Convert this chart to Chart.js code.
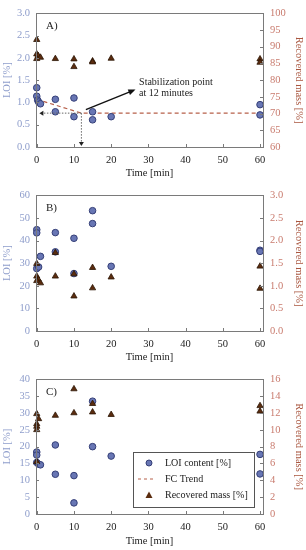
<!DOCTYPE html>
<html>
<head>
<meta charset="utf-8">
<script src="https://cdn.jsdelivr.net/npm/chart.js@4"></script>
<style>
  body { margin: 0; background: #fff; }
  .panel { position: relative; width: 306px; }
  canvas { display: block; }
</style>
</head>
<body>
<div class="panel" style="height:182px"><canvas id="chartA"></canvas></div>
<div class="panel" style="height:184px"><canvas id="chartB"></canvas></div>
<div class="panel" style="height:184px"><canvas id="chartC"></canvas></div>
<script>
// Panel A
const aLoiTime = [0, 0, 0.25, 0.5, 1, 5, 5, 10, 10, 15, 15, 20, 60, 60];
const aLoi = [1.33, 1.14, 1.05, 1.01, 0.97, 1.07, 0.79, 1.1, 0.68, 0.79, 0.61, 0.68, 0.95, 0.72];
const aMassTime = [0, 0, 0.4, 1, 0, 5, 10, 10, 15, 15, 20, 60, 60];
const aMass = [92.1, 87.8, 87.3, 86.8, 86.4, 86.4, 86.3, 84.0, 85.7, 85.4, 86.5, 86.3, 85.3];
const aTrendTime = [0, 12, 60];
const aTrend = [1.07, 0.76, 0.76];

// Panel B
const bLoiTime = [0, 0, 0, 0.5, 1, 5, 5, 10, 10, 15, 15, 20, 60, 60];
const bLoi = [44.8, 43.4, 27.6, 28.3, 33.0, 43.5, 35.0, 41.0, 25.4, 53.2, 47.5, 28.6, 35.7, 35.2];
const bMassTime = [0, 0, 0.4, 0, 1, 5, 5, 10, 10, 15, 15, 20, 60, 60];
const bMass = [1.49, 1.21, 1.14, 1.11, 1.06, 1.73, 1.21, 1.26, 0.77, 1.40, 0.95, 1.19, 1.43, 0.94];

// Panel C
const cLoiTime = [0, 0, 0, 0.5, 1, 5, 5, 10, 10, 15, 15, 20, 60, 60];
const cLoi = [18.4, 17.5, 15.3, 14.8, 14.6, 20.5, 11.8, 11.4, 3.3, 33.5, 20.0, 17.2, 17.7, 11.9];
const cMassTime = [0, 0.5, 0, 0, 0, 0, 5, 10, 10, 15, 15, 20, 60, 60];
const cMass = [11.9, 11.3, 10.7, 10.4, 10.0, 6.2, 11.7, 14.85, 12.0, 13.1, 12.1, 11.8, 12.85, 12.2];

const timeTicks = [0, 10, 20, 30, 40, 50, 60];

const loiColor = "#8e9dcb";
const massTickColor = "#c97b6e";
const massTitleColor = "#a9563f";
const frameColor = "#7a7a7a";
const serif = "'Liberation Serif', 'DejaVu Serif', serif";
const fs = 10.5;

function toPoints(xs, ys) {
    return xs.map((x, i) => ({ x: x, y: ys[i] }));
}

// frame around the plot + small inward ticks
const framePlugin = {
    id: "frame",
    afterDraw(chart) {
        const ctx = chart.ctx;
        const a = chart.chartArea;
        ctx.save();
        ctx.strokeStyle = frameColor;
        ctx.lineWidth = 1;
        ctx.strokeRect(Math.round(a.left) + 0.5, Math.round(a.top) + 0.5,
            Math.round(a.right - a.left), Math.round(a.bottom - a.top));
        ctx.beginPath();
        chart.scales.y.ticks.forEach((t) => {
            const py = Math.round(chart.scales.y.getPixelForValue(t.value)) + 0.5;
            ctx.moveTo(a.left, py);
            ctx.lineTo(a.left + 3, py);
        });
        chart.scales.y1.ticks.forEach((t) => {
            const py = Math.round(chart.scales.y1.getPixelForValue(t.value)) + 0.5;
            ctx.moveTo(a.right, py);
            ctx.lineTo(a.right - 3, py);
        });
        chart.scales.x.ticks.forEach((t) => {
            const px = Math.round(chart.scales.x.getPixelForValue(t.value)) + 0.5;
            ctx.moveTo(px, a.bottom);
            ctx.lineTo(px, a.bottom - 3);
        });
        ctx.stroke();

        // panel letter
        ctx.fillStyle = "#222";
        ctx.font = "11px " + serif;
        ctx.textBaseline = "top";
        ctx.fillText(chart.options.plugins.frame.letter, a.left + 10, a.top + 7);
        ctx.restore();
    },
};

// arrows + text for panel A
const stabPlugin = {
    id: "stab",
    afterDatasetsDraw(chart) {
        if (!chart.options.plugins.stab.show) return;
        const ctx = chart.ctx;
        const xs = chart.scales.x;
        const ys = chart.scales.y;
        const px = (v) => xs.getPixelForValue(v);
        const py = (v) => ys.getPixelForValue(v);
        ctx.save();
        // grey dotted guides
        ctx.strokeStyle = "#666";
        ctx.lineWidth = 1;
        ctx.setLineDash([1.5, 1.5]);
        ctx.beginPath();
        ctx.moveTo(px(12), py(0.76));
        ctx.lineTo(px(1.2), py(0.76));
        ctx.moveTo(px(12), py(0.76));
        ctx.lineTo(px(12), py(0.05));
        ctx.stroke();
        ctx.setLineDash([]);
        ctx.fillStyle = "#222";
        // left arrowhead
        ctx.beginPath();
        ctx.moveTo(px(0.7), py(0.76));
        ctx.lineTo(px(0.7) + 4, py(0.76) - 2.5);
        ctx.lineTo(px(0.7) + 4, py(0.76) + 2.5);
        ctx.fill();
        // down arrowhead
        ctx.beginPath();
        ctx.moveTo(px(12), py(0) - 1);
        ctx.lineTo(px(12) - 2.5, py(0) - 5);
        ctx.lineTo(px(12) + 2.5, py(0) - 5);
        ctx.fill();

        // black arrow to label
        const x0 = px(13.2), y0 = py(0.84);
        const x1 = px(26), y1 = py(1.27);
        ctx.strokeStyle = "#111";
        ctx.lineWidth = 1.4;
        ctx.beginPath();
        ctx.moveTo(x0, y0);
        ctx.lineTo(x1, y1);
        ctx.stroke();
        const ang = Math.atan2(y1 - y0, x1 - x0);
        ctx.beginPath();
        ctx.moveTo(x1 + 2, y1 + 2 * Math.tan(ang));
        ctx.lineTo(x1 - 5 * Math.cos(ang) + 3 * Math.sin(ang), y1 - 5 * Math.sin(ang) - 3 * Math.cos(ang));
        ctx.lineTo(x1 - 5 * Math.cos(ang) - 3 * Math.sin(ang), y1 - 5 * Math.sin(ang) + 3 * Math.cos(ang));
        ctx.fillStyle = "#111";
        ctx.fill();

        ctx.fillStyle = "#222";
        ctx.font = "10px " + serif;
        ctx.textBaseline = "middle";
        ctx.fillText("Stabilization point", px(27.5), py(1.44));
        ctx.fillText("at 12 minutes", px(27.5), py(1.2));
        ctx.restore();
    },
};

// boxed legend for panel C
const boxLegendPlugin = {
    id: "boxLegend",
    afterDraw(chart) {
        if (!chart.options.plugins.boxLegend.show) return;
        const ctx = chart.ctx;
        const left = 133, top = 86, w = 121, h = 55;
        ctx.save();
        ctx.fillStyle = "#fff";
        ctx.fillRect(left, top, w, h);
        ctx.strokeStyle = "#555";
        ctx.lineWidth = 1;
        ctx.strokeRect(left + 0.5, top + 0.5, w, h);
        const rows = [top + 11, top + 27, top + 43];
        // circle
        ctx.fillStyle = "#6876b4";
        ctx.strokeStyle = "#353f77";
        ctx.beginPath();
        ctx.arc(left + 16, rows[0], 3, 0, Math.PI * 2);
        ctx.fill();
        ctx.stroke();
        // dashed line
        ctx.strokeStyle = "#b7604a";
        ctx.setLineDash([3, 3]);
        ctx.beginPath();
        ctx.moveTo(left + 5, rows[1]);
        ctx.lineTo(left + 23, rows[1]);
        ctx.stroke();
        ctx.setLineDash([]);
        // triangle
        ctx.fillStyle = "#5b2c0f";
        ctx.beginPath();
        ctx.moveTo(left + 16, rows[2] - 3.5);
        ctx.lineTo(left + 19.5, rows[2] + 3);
        ctx.lineTo(left + 12.5, rows[2] + 3);
        ctx.closePath();
        ctx.fill();
        ctx.fillStyle = "#222";
        ctx.font = "10px " + serif;
        ctx.textBaseline = "middle";
        ctx.fillText("LOI content [%]", left + 32, rows[0]);
        ctx.fillText("FC Trend", left + 32, rows[1]);
        ctx.fillText("Recovered mass [%]", left + 32, rows[2]);
        ctx.restore();
    },
};

function makeChart(id, opts) {
    const datasets = [
        {
            label: "LOI content [%]",
            data: toPoints(opts.loiTime, opts.loi),
            yAxisID: "y",
            pointStyle: "circle",
            pointRadius: 3.3,
            backgroundColor: "#6876b4",
            borderColor: "#353f77",
            borderWidth: 1,
            clip: false,
            order: 2,
        },
        {
            label: "Recovered mass [%]",
            data: toPoints(opts.massTime, opts.mass),
            yAxisID: "y1",
            pointStyle: "triangle",
            pointRadius: 3.6,
            backgroundColor: "#5b2c0f",
            borderColor: "#2b1505",
            borderWidth: 0.8,
            clip: false,
            order: 1,
        },
    ];
    if (opts.trendTime) {
        datasets.push({
            label: "FC Trend",
            data: toPoints(opts.trendTime, opts.trend),
            yAxisID: "y",
            showLine: true,
            pointRadius: 0,
            borderColor: "#b7604a",
            borderWidth: 1.2,
            borderDash: [4, 3],
            order: 3,
        });
    }
    const canvasH = document.getElementById(id).parentElement.clientHeight;
    const noGrid = { display: false, drawTicks: false };
    return new Chart(document.getElementById(id), {
        type: "scatter",
        data: { datasets: datasets },
        options: {
            responsive: true,
            maintainAspectRatio: false,
            animation: false,
            layout: { padding: { top: opts.top, left: 0, right: 0, bottom: 0 } },
            plugins: {
                legend: { display: false },
                tooltip: { enabled: false },
                frame: { letter: opts.letter },
                stab: { show: !!opts.trendTime },
                boxLegend: { show: !!opts.legend },
            },
            scales: {
                x: {
                    type: "linear",
                    min: -0.2,
                    max: 60.8,
                    afterFit: (s) => { s.height = canvasH - opts.bottom; },
                    afterBuildTicks: (s) => { s.ticks = timeTicks.map((v) => ({ value: v })); },
                    grid: noGrid,
                    border: { display: false },
                    ticks: { color: "#222", font: { family: serif, size: fs }, padding: 7, maxRotation: 0 },
                    title: {
                        display: true,
                        text: "Time [min]",
                        color: "#222",
                        font: { family: serif, size: fs },
                        padding: { top: 0, bottom: 2 },
                    },
                },
                y: {
                    position: "left",
                    min: opts.loiMin,
                    max: opts.loiMax,
                    afterFit: (s) => { s.width = 36; },
                    grid: noGrid,
                    border: { display: false },
                    ticks: {
                        stepSize: opts.loiStep,
                        color: loiColor,
                        font: { family: serif, size: fs },
                        padding: 6,
                        callback: (v) => v.toFixed(opts.loiDec),
                    },
                    title: {
                        display: true,
                        text: "LOI [%]",
                        color: loiColor,
                        font: { family: serif, size: fs },
                        padding: { top: 1, bottom: 0 },
                    },
                },
                y1: {
                    position: "right",
                    min: opts.massMin,
                    max: opts.massMax,
                    afterFit: (s) => { s.width = 43; },
                    grid: noGrid,
                    border: { display: false },
                    ticks: {
                        stepSize: opts.massStep,
                        color: massTickColor,
                        font: { family: serif, size: fs },
                        padding: 7,
                        callback: (v) => v.toFixed(opts.massDec),
                    },
                    title: {
                        display: true,
                        text: "Recovered mass [%]",
                        color: massTitleColor,
                        font: { family: serif, size: fs },
                        padding: { top: 1, bottom: 0 },
                    },
                },
            },
        },
        plugins: [framePlugin, stabPlugin, boxLegendPlugin],
    });
}

makeChart("chartA", {
    letter: "A)", top: 6, bottom: 147,
    loiTime: aLoiTime, loi: aLoi, massTime: aMassTime, mass: aMass,
    trendTime: aTrendTime, trend: aTrend,
    loiMin: 0, loiMax: 3, loiStep: 0.5, loiDec: 1,
    massMin: 60, massMax: 100, massStep: 5, massDec: 0,
});

makeChart("chartB", {
    letter: "B)", top: 7, bottom: 149,
    loiTime: bLoiTime, loi: bLoi, massTime: bMassTime, mass: bMass,
    loiMin: 0, loiMax: 60, loiStep: 10, loiDec: 0,
    massMin: 0, massMax: 3, massStep: 0.5, massDec: 1,
});

makeChart("chartC", {
    letter: "C)", top: 10, bottom: 148, legend: true,
    loiTime: cLoiTime, loi: cLoi, massTime: cMassTime, mass: cMass,
    loiMin: 0, loiMax: 40, loiStep: 5, loiDec: 0,
    massMin: 0, massMax: 16, massStep: 2, massDec: 0,
});
</script>
</body>
</html>
